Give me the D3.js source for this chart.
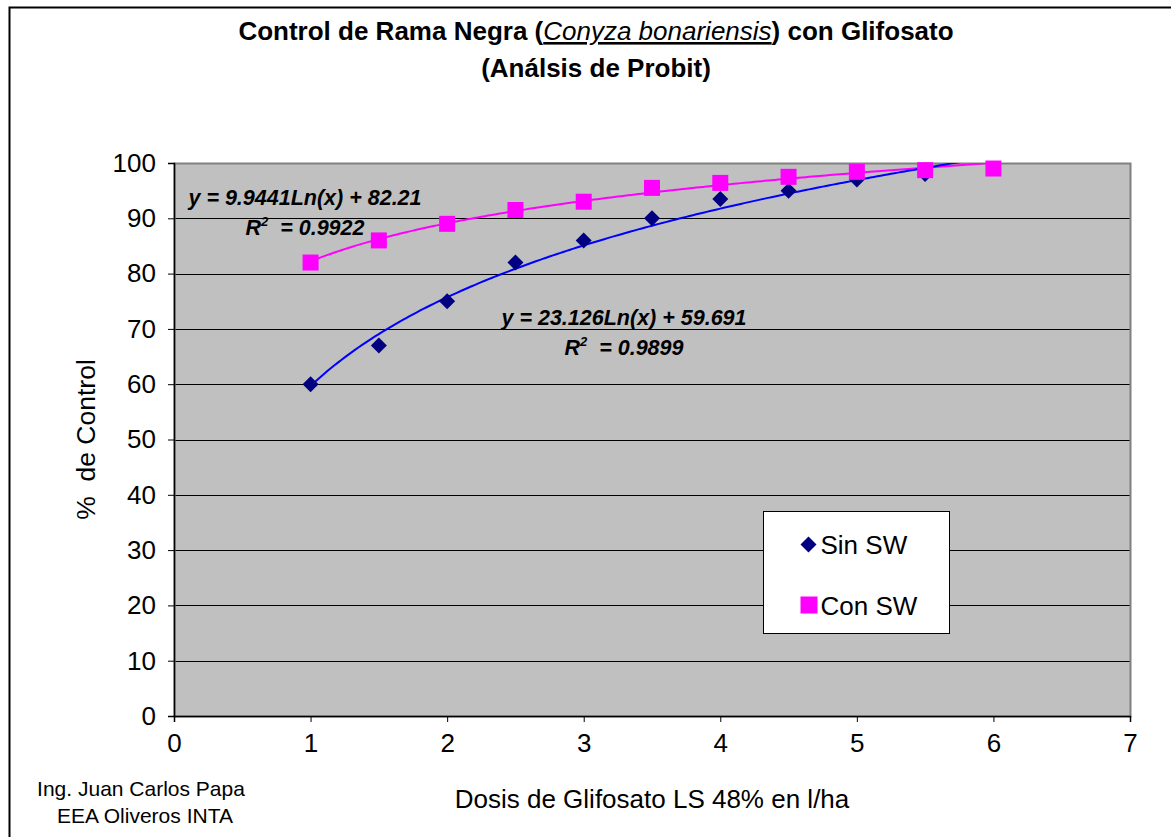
<!DOCTYPE html>
<html lang="en">
<head>
	<meta charset="utf-8">
	<title>Control de Rama Negra</title>
	<script src="https://d3js.org/d3.v7.min.js"></script>
	<style>
		body { margin: 0; background: #fff; }
		text { font-family: "Liberation Sans", Arial, sans-serif; }
	</style>
</head>
<body>
	<script>

	// data
	var dosis = [1, 1.5, 2, 2.5, 3, 3.5, 4, 4.5, 5, 5.5];
	var sinSW = [60, 67, 75, 82, 86, 90, 93.5, 95, 97, 98];
	var dosisCon = [1, 1.5, 2, 2.5, 3, 3.5, 4, 4.5, 5, 5.5, 6];
	var conSW = [82, 86, 89, 91.5, 93, 95.5, 96.4, 97.5, 98.4, 98.7, 99];

	// trendline coefficients (y = a*Ln(x) + b) as printed on the chart
	var fitSin = { a: 23.126, b: 59.691, r2: "0.9899" };
	var fitCon = { a: 9.9441, b: 82.21, r2: "0.9922" };

	var xTicks = [0, 1, 2, 3, 4, 5, 6, 7];
	var yTicks = [0, 10, 20, 30, 40, 50, 60, 70, 80, 90, 100];

	var width = 1171,
		height = 837;

	var plot = { left: 174, right: 1130, top: 163, bottom: 716 };

	var svg = d3.select("body")
		.append("svg")
		.attr("width", width)
		.attr("height", height);

	// outer chart frame
	svg.append("rect")
		.attr("x", 9.5).attr("y", 7.5)
		.attr("width", width + 20).attr("height", height + 20)
		.attr("fill", "#fff")
		.attr("stroke", "#000")
		.attr("stroke-width", 2);

	var x = d3.scaleLinear().domain([0, 7]).range([plot.left, plot.right]);
	var y = d3.scaleLinear().domain([0, 100]).range([plot.bottom, plot.top]);

	svg.append("rect")
		.attr("x", plot.left).attr("y", plot.top)
		.attr("width", plot.right - plot.left)
		.attr("height", plot.bottom - plot.top)
		.attr("fill", "#c0c0c0");

	// gridlines
	svg.append("g")
		.selectAll("line")
		.data(yTicks.filter(function(d) { return d > 0 && d < 100; }))
		.enter().append("line")
		.attr("x1", plot.left).attr("x2", plot.right)
		.attr("y1", function(d) { return Math.round(y(d)) + 0.5; })
		.attr("y2", function(d) { return Math.round(y(d)) + 0.5; })
		.attr("stroke", "#000")
		.attr("stroke-width", 1);

	svg.append("rect")
		.attr("x", plot.left + 0.5).attr("y", plot.top + 0.5)
		.attr("width", plot.right - plot.left)
		.attr("height", plot.bottom - plot.top)
		.attr("fill", "none")
		.attr("stroke", "#808080")
		.attr("stroke-width", 2);

	// axes
	var yAxis = svg.append("g")
		.attr("transform", "translate(" + plot.left + ",0)")
		.call(d3.axisLeft(y).tickValues(yTicks).tickSize(6).tickPadding(12).tickFormat(d3.format("d")));
	var xAxis = svg.append("g")
		.attr("transform", "translate(0," + plot.bottom + ")")
		.call(d3.axisBottom(x).tickValues(xTicks).tickSize(6).tickPadding(12).tickFormat(d3.format("d")));

	[yAxis, xAxis].forEach(function(g) {
		g.select(".domain").attr("stroke", "#000").attr("stroke-width", 1.5);
		g.selectAll(".tick line").attr("stroke", "#000");
		g.selectAll(".tick text")
			.attr("fill", "#000")
			.style("font-family", "'Liberation Sans', Arial, sans-serif")
			.style("font-size", "26px");
	});

	// trendlines
	var line = d3.line()
		.x(function(d) { return x(d[0]); })
		.y(function(d) { return y(d[1]); });

	function trend(fit, x0, x1) {
		var pts = [];
		for (var i = 0; i <= 200; i++) {
			var xv = x0 + (x1 - x0) * i / 200;
			pts.push([xv, fit.a * Math.log(xv) + fit.b]);
		}
		return pts;
	}

	svg.append("clipPath").attr("id", "clip")
		.append("rect")
		.attr("x", plot.left).attr("y", plot.top)
		.attr("width", plot.right - plot.left)
		.attr("height", plot.bottom - plot.top);

	var curves = svg.append("g").attr("clip-path", "url(#clip)");

	curves.append("path")
		.attr("d", line(trend(fitCon, d3.min(dosisCon), d3.max(dosisCon))))
		.attr("fill", "none")
		.attr("stroke", "#ff00ff")
		.attr("stroke-width", 2);

	curves.append("path")
		.attr("d", line(trend(fitSin, d3.min(dosis), 6)))
		.attr("fill", "none")
		.attr("stroke", "#0000ff")
		.attr("stroke-width", 2);

	// markers
	svg.append("g")
		.selectAll("path")
		.data(dosis.map(function(d, i) { return [d, sinSW[i]]; }))
		.enter().append("path")
		.attr("d", d3.symbol().type(d3.symbolSquare).size(128))
		.attr("transform", function(d) { return "translate(" + x(d[0]) + "," + y(d[1]) + ") rotate(45)"; })
		.attr("fill", "#000080");

	svg.append("g")
		.selectAll("rect")
		.data(dosisCon.map(function(d, i) { return [d, conSW[i]]; }))
		.enter().append("rect")
		.attr("x", function(d) { return x(d[0]) - 8; })
		.attr("y", function(d) { return y(d[1]) - 8; })
		.attr("width", 16).attr("height", 16)
		.attr("fill", "#ff00ff");

	// equation labels
	function eqLabel(fit, cx, cy) {
		var g = svg.append("g")
			.style("font-weight", "bold")
			.style("font-style", "italic")
			.style("font-size", "21.5px")
			.attr("fill", "#000")
			.attr("text-anchor", "middle");
		g.append("text")
			.attr("x", cx).attr("y", cy)
			.text("y = " + fit.a + "Ln(x) + " + fit.b);
		var t = g.append("text")
			.attr("x", cx).attr("y", cy + 30)
			.style("white-space", "pre");
		t.append("tspan").text("R");
		t.append("tspan").attr("dy", -9).style("font-size", "13px").text("2");
		t.append("tspan").attr("dy", 9).text("  = " + fit.r2);
	}
	eqLabel(fitCon, 305, 205);
	eqLabel(fitSin, 624, 325);

	// legend
	var lg = svg.append("g").attr("transform", "translate(763.5,511.5)");
	lg.append("rect")
		.attr("width", 186).attr("height", 122)
		.attr("fill", "#fff")
		.attr("stroke", "#000")
		.attr("stroke-width", 1);
	lg.append("path")
		.attr("d", d3.symbol().type(d3.symbolSquare).size(128))
		.attr("transform", "translate(45,33) rotate(45)")
		.attr("fill", "#000080");
	lg.append("rect")
		.attr("x", 37).attr("y", 85).attr("width", 17).attr("height", 17)
		.attr("fill", "#ff00ff");
	lg.append("text").attr("x", 57).attr("y", 42)
		.style("font-size", "26px").text("Sin SW");
	lg.append("text").attr("x", 57).attr("y", 103)
		.style("font-size", "26px").text("Con SW");

	// titles
	var title = svg.append("text")
		.attr("x", 596).attr("y", 40)
		.attr("text-anchor", "middle")
		.style("font-weight", "bold")
		.style("font-size", "26px");
	title.append("tspan").text("Control de Rama Negra (");
	title.append("tspan")
		.style("font-weight", "normal")
		.style("font-style", "italic")
		.style("text-decoration", "underline")
		.text("Conyza bonariensis");
	title.append("tspan").text(") con Glifosato");

	svg.append("text")
		.attr("x", 596).attr("y", 77)
		.attr("text-anchor", "middle")
		.style("font-weight", "bold")
		.style("font-size", "26px")
		.text("(Análsis de Probit)");

	svg.append("text")
		.attr("transform", "translate(95," + ((plot.top + plot.bottom) / 2) + ") rotate(-90)")
		.attr("text-anchor", "middle")
		.style("font-size", "26.5px")
		.style("white-space", "pre")
		.text("%  de Control");

	svg.append("text")
		.attr("x", 652).attr("y", 808)
		.attr("text-anchor", "middle")
		.style("font-size", "26px")
		.text("Dosis de Glifosato LS 48% en l/ha");

	svg.append("text")
		.attr("x", 141).attr("y", 796)
		.attr("text-anchor", "middle")
		.style("font-size", "21px")
		.text("Ing. Juan Carlos Papa");
	svg.append("text")
		.attr("x", 145).attr("y", 823)
		.attr("text-anchor", "middle")
		.style("font-size", "21px")
		.text("EEA Oliveros INTA");

	</script>
</body>
</html>
